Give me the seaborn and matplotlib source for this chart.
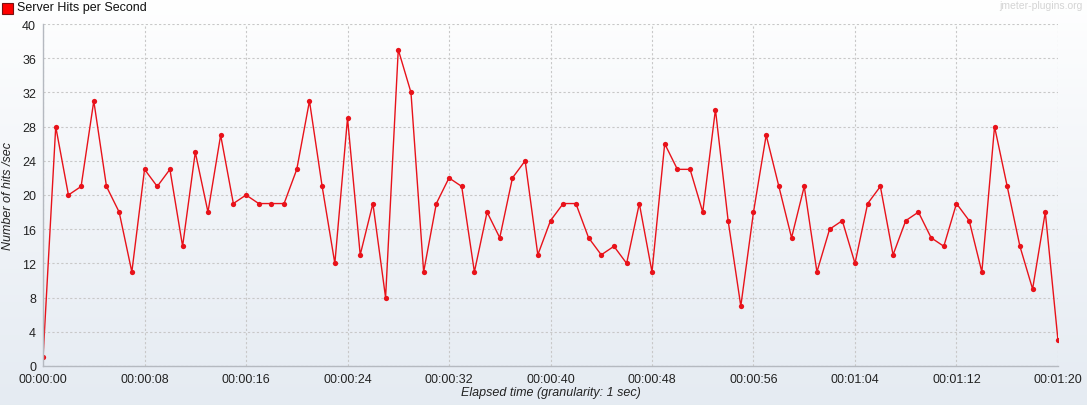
import numpy as np
import pandas as pd
import matplotlib
matplotlib.use("Agg")
import matplotlib.pyplot as plt
import seaborn as sns
from matplotlib.ticker import FuncFormatter, MultipleLocator

# hits per second, one value per second of the test
seconds = list(range(81))
hits = [1, 28, 20, 21, 31, 21, 18, 11, 23, 21,
        23, 14, 25, 18, 27, 19, 20, 19, 19, 19,
        23, 31, 21, 12, 29, 13, 19, 8, 37, 32,
        11, 19, 22, 21, 11, 18, 15, 22, 24, 13,
        17, 19, 19, 15, 13, 14, 12, 19, 11, 26,
        23, 23, 18, 30, 17, 7, 18, 27, 21, 15,
        21, 11, 16, 17, 12, 19, 21, 13, 17, 18,
        15, 14, 19, 17, 11, 28, 21, 14, 9, 18,
        3]
series_name = "Server Hits per Second"

df = pd.DataFrame({"sec": seconds, "hits": hits})

sns.set_style("white")
plt.rcParams["font.family"] = ["Liberation Sans", "DejaVu Sans"]

fig = plt.figure(figsize=(10.87, 4.06), dpi=100)

# gradient background, white on top to pale blue-grey at the bottom
bg = fig.add_axes([0, 0, 1, 1], zorder=-2)
grad = np.linspace(0, 1, 256).reshape(-1, 1)
top = np.array([1.0, 1.0, 1.0])
bottom = np.array([0.898, 0.922, 0.949])
img = top + (bottom - top) * grad[..., None] ** 0.9
bg.imshow(img, aspect="auto", extent=[0, 1, 0, 1], origin="upper")
bg.axis("off")

ax = fig.add_axes([0.0396, 0.0961, 0.9337, 0.8423])
ax.patch.set_alpha(0)

sns.lineplot(data=df, x="sec", y="hits", ax=ax, color="#e8121a",
             linewidth=1.0, marker="o", markersize=3.8,
             markeredgewidth=0, legend=False)

ax.set_xlim(0, 80)
ax.set_ylim(0, 40)
ax.xaxis.set_major_locator(MultipleLocator(8))
ax.yaxis.set_major_locator(MultipleLocator(4))


def fmt_time(v, pos):
    s = int(round(v))
    return f"{s // 3600:02d}:{(s % 3600) // 60:02d}:{s % 60:02d}"


ax.xaxis.set_major_formatter(FuncFormatter(fmt_time))

ax.grid(True, color="#c8c8c8", linestyle=(0, (2, 2)), linewidth=0.8)
ax.set_axisbelow(True)
for side in ["top", "right"]:
    ax.spines[side].set_visible(False)
for side in ["left", "bottom"]:
    ax.spines[side].set_color("#b5b9c0")
    ax.spines[side].set_linewidth(1.0)

ax.tick_params(axis="both", labelsize=9, colors="#b5b9c0", labelcolor="#222222",
               length=3, width=0.8, direction="out", pad=2)

ax.set_xlabel("Elapsed time (granularity: 1 sec)", fontsize=9,
              fontstyle="italic", color="#222222", labelpad=1)
ax.set_ylabel("Number of hits /sec", fontsize=9, fontstyle="italic",
              color="#222222", labelpad=6)

# legend box at top left
fig.patches.append(plt.Rectangle((2 / 1087, 1 - 15 / 406), 11 / 1087, 11 / 406,
                                 transform=fig.transFigure, facecolor="#ff0000",
                                 edgecolor="#7a1010", linewidth=0.8))
fig.text(17 / 1087, 1 - 8 / 406, series_name, fontsize=9, va="center",
         ha="left", color="#111111")

# watermark
fig.text(1083 / 1087, 1 - 1 / 406, "jmeter-plugins.org", fontsize=7.5,
         ha="right", va="top", color="#d4d4d4")

fig.savefig("out.png", dpi=100)
